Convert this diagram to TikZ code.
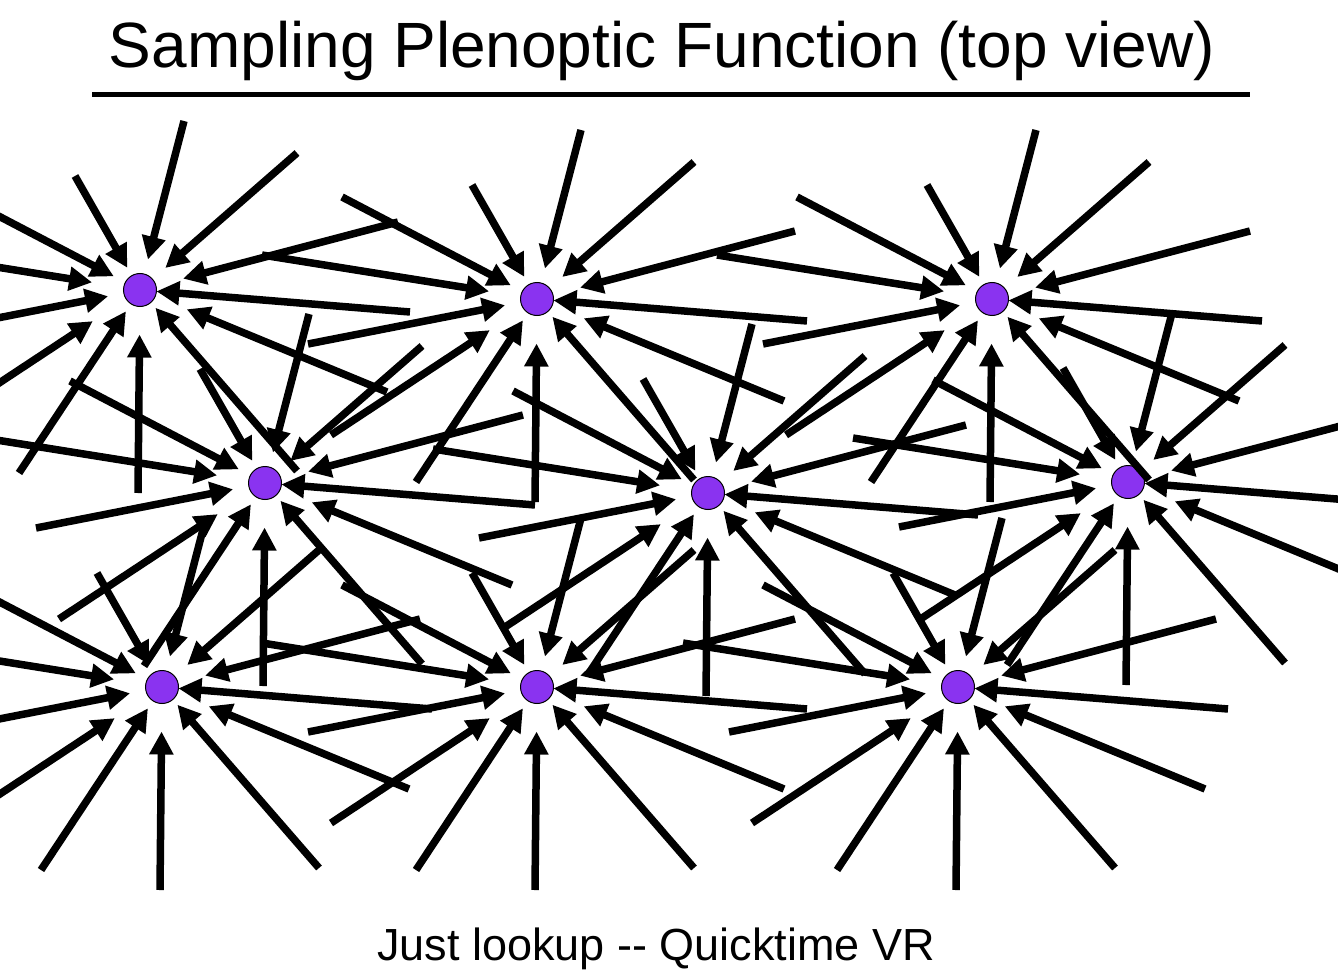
\documentclass[tikz,border=0pt]{standalone}
\usepackage{fontspec}
\setmainfont{Liberation Sans}
\usetikzlibrary{arrows.meta,calc}
\definecolor{dotFill}{HTML}{8A33F0}
\tikzset{
  dot/.style    ={circle, draw=black, fill=dotFill, line width=1pt, minimum size=33pt, inner sep=0pt, outer sep=0pt},
  ray/.style    ={-{Triangle[length=23pt,width=23pt]}, line width=7.5pt},
  heading/.style={font=\fontsize{64}{70}\selectfont, anchor=base},
  caption/.style={font=\fontsize{45}{50}\selectfont, anchor=base},
}

\begin{document}
\begin{tikzpicture}[x=1pt, y=-1pt]
  \useasboundingbox (0,0) rectangle (1338,976);
  \clip (0,0) rectangle (1338,976);

  % heading and its rule
  \node[heading] (head) at (662,68) {Sampling Plenoptic Function (top view)};
  \coordinate (ruleL) at (92,95);
  \coordinate (ruleR) at (1250,95);
  \draw[line width=5pt] (ruleL) -- (ruleR);

  % the nine sample points
  \foreach \n/\px/\py in {1/140/290, 2/537/299, 3/992/299,
                          4/265/483, 5/708/493, 6/1128/482,
                          7/162/687, 8/537/687, 9/958/687}
    \node[dot] (p\n) at (\px,\py) {};

  % every point gets the same fan of incoming rays
  \foreach \n in {1,...,9}
    \foreach \dx/\dy/\gap in {44/-169/15, 157/-137/17, -65/-114/9, -195/-102/13,
                              -275/-44/32, -229/45/16, -206/136/40, -121/183/9,
                              -2/203/28, 157/181/7, 247/102/34, 270/22/0, 258/-68/28} {
      \coordinate (s) at ($(p\n)+(\dx,\dy)$);
      \draw[ray, shorten >=\gap pt] (s) -- (p\n);
    }

  \node[caption] (note) at (656,960) {Just lookup -{}- Quicktime VR};
\end{tikzpicture}
\end{document}
